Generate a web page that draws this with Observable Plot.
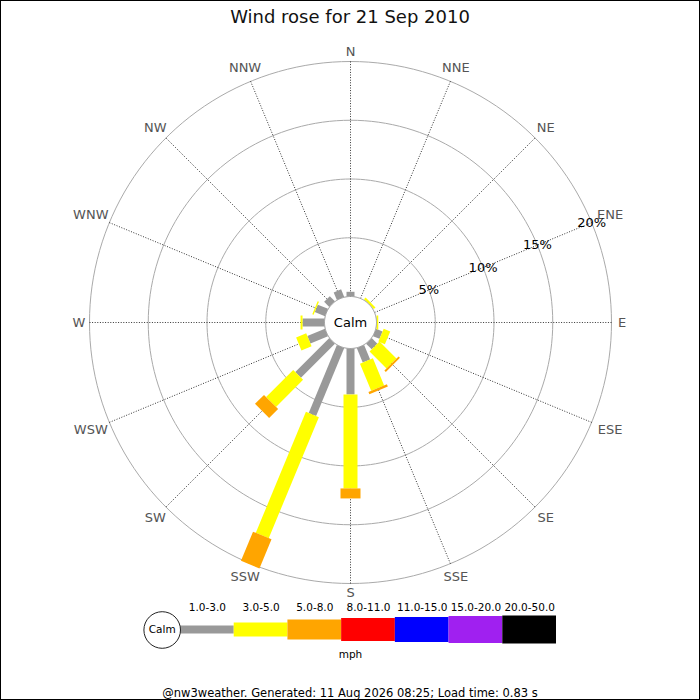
<!DOCTYPE html>
<html>
<head>
<meta charset="utf-8">
<script src="https://cdn.jsdelivr.net/npm/d3@7"></script>
<script src="https://cdn.jsdelivr.net/npm/@observablehq/plot@0.6"></script>
<style>
  body { margin: 0; background: white; font-family: "DejaVu Sans", sans-serif; }
  #page { position: relative; width: 700px; height: 700px; overflow: hidden; }
  #frame { position: absolute; left: 0; top: 0; width: 698px; height: 698px; border: 1px solid black; pointer-events: none; }
  #title { position: absolute; top: 0; left: 0; width: 700px; height: 34px; line-height: 34px; text-align: center; font-size: 18px; color: #111; }
  #rose { position: absolute; top: 34px; left: 0; }
  #legend { position: absolute; top: 600px; left: 0; }
  #footer { position: absolute; top: 684px; left: 0; width: 700px; line-height: 18px; text-align: center; font-size: 11.5px; }
</style>
</head>
<body>
<div id="page">
  <div id="title">Wind rose for 21 Sep 2010</div>
  <div id="rose"></div>
  <div id="legend"></div>
  <div id="footer">@nw3weather. Generated: 11 Aug 2026 08:25; Load time: 0.83 s</div>
  <div id="frame"></div>
</div>
<script>
// 16 compass points, clockwise from N
const directions = ["N", "NNE", "NE", "ENE", "E", "ESE", "SE", "SSE", "S", "SSW", "SW", "WSW", "W", "WNW", "NW", "NNW"];
const speedClasses = ["1.0-3.0", "3.0-5.0", "5.0-8.0", "8.0-11.0", "11.0-15.0", "15.0-20.0", "20.0-50.0"];
const classColors = ["#999999", "#ffff00", "#ffa500", "#ff0000", "#0000ff", "#a020f0", "#000000"];
const classWidths = [8, 14, 20, 23, 25, 27, 28];

// % of the day from each direction, by speed class (mph)
const speed1to3 = [0.4, 0, 0, 0, 0, 0.6, 0.68, 1.33, 3.91, 6.26, 4.09, 1.62, 1.87, 0.94, 0.62, 0.7];
const speed3to5 = [0, 0, 0.2, 0, 0.15, 0.6, 2.04, 2.5, 8.0, 11.15, 3.26, 0.93, 0.17, 0.12, 0, 0];
const speed5to8 = [0, 0, 0, 0, 0, 0, 0.17, 0.21, 0.85, 2.68, 1.08, 0, 0, 0, 0, 0];
const ringTicks = [5, 10, 15, 20];

const pxPerPct = 11.75;
const hole = 26 / pxPerPct;          // radius of the calm circle, in % units
const W = 700, H = 576, cy = 288;

const angle = i => i * Math.PI / 8;
const px = (a, r) => (hole + r) * Math.sin(a);
const py = (a, r) => (hole + r) * Math.cos(a);

// compass labels: text box pushed just outside the outer ring
const labelR = (d, i) => {
  const a = angle(i);
  const off = 267 + d.length * 4.6 * Math.abs(Math.sin(a)) + 3.5 * Math.abs(Math.cos(a));
  return off / pxPerPct - hole;
};

// stacked segments per direction
const seriesBySpeed = [speed1to3, speed3to5, speed5to8];
const segments = seriesBySpeed.map(() => []);
directions.forEach((dir, i) => {
  let r = 0;
  seriesBySpeed.forEach((vals, k) => {
    const v = vals[i];
    if (v > 0) segments[k].push({dir, a: angle(i), r0: r, r1: r + v});
    r += v;
  });
});

const circlePts = (r, key) => d3.range(0, 361, 2).map(deg => {
  const a = deg * Math.PI / 180;
  return {key, x: px(a, r), y: py(a, r)};
});
const rings = ringTicks.flatMap(t => circlePts(t, t));
const calmRing = circlePts(0, "calm");
const maxTick = d3.max(ringTicks);

let rose = Plot.plot({
  width: W,
  height: H,
  margin: 0,
  x: {domain: [-W / 2 / pxPerPct, W / 2 / pxPerPct], axis: null},
  y: {domain: [-(H - cy) / pxPerPct, cy / pxPerPct], axis: null},
  style: {fontFamily: "DejaVu Sans", background: "transparent", overflow: "visible"},
  marks: [
    Plot.line(rings, {x: "x", y: "y", z: "key", stroke: "#aaa", strokeWidth: 1}),
    Plot.link(directions, {
      x1: (d, i) => px(angle(i), 0), y1: (d, i) => py(angle(i), 0),
      x2: (d, i) => px(angle(i), maxTick), y2: (d, i) => py(angle(i), maxTick),
      stroke: "#000", strokeWidth: 0.8, strokeDasharray: "1,1.6"
    }),
    ...segments.map((segs, k) => Plot.link(segs, {
      x1: d => px(d.a, d.r0), y1: d => py(d.a, d.r0),
      x2: d => px(d.a, d.r1), y2: d => py(d.a, d.r1),
      stroke: classColors[k], strokeWidth: classWidths[k], strokeLinecap: "butt"
    })),
    Plot.line(calmRing, {x: "x", y: "y", fill: "white", stroke: "#999", strokeWidth: 1}),
    Plot.text(["Calm"], {x: 0, y: 0, text: d => d, fontSize: 13, fill: "black"}),
    Plot.text(directions, {
      x: (d, i) => px(angle(i), labelR(d, i)),
      y: (d, i) => py(angle(i), labelR(d, i)),
      text: d => d, fontSize: 13, fill: "#555"
    }),
    Plot.text(ringTicks, {
      x: t => px(3 * Math.PI / 8, t), y: t => py(3 * Math.PI / 8, t),
      text: t => t + "%", fontSize: 13, fill: "black"
    })
  ]
});
d3.select("#rose").append(() => rose);

// legend
let legend = Plot.plot({
  width: W,
  height: 70,
  margin: 0,
  x: {domain: [0, speedClasses.length], range: [180, 556], axis: null},
  y: {domain: [-40.5, 29.5], axis: null},
  color: {type: "identity"},
  style: {fontFamily: "DejaVu Sans", background: "transparent", overflow: "visible"},
  marks: [
    Plot.rect(speedClasses, {
      x1: (d, i) => i, x2: (d, i) => i + 1,
      y1: (d, i) => -classWidths[i] / 2, y2: (d, i) => classWidths[i] / 2,
      fill: (d, i) => classColors[i]
    }),
    Plot.text(speedClasses, {x: (d, i) => i + 0.5, y: 22.5, text: d => d, fontSize: 10.5, fill: "black"}),
    Plot.dot(["Calm"], {x: 0, y: 0, r: 18.3, dx: -18.3, stroke: "#222", fill: "white", strokeWidth: 1}),
    Plot.text(["Calm"], {x: 0, y: 0, dx: -18.3, text: d => d, fontSize: 10.5, fill: "black"}),
    Plot.text(["mph"], {frameAnchor: "top", lineAnchor: "middle", dy: 54, text: d => d, fontSize: 10.5, fill: "black"})
  ]
});
d3.select("#legend").append(() => legend);
</script>
</body>
</html>
